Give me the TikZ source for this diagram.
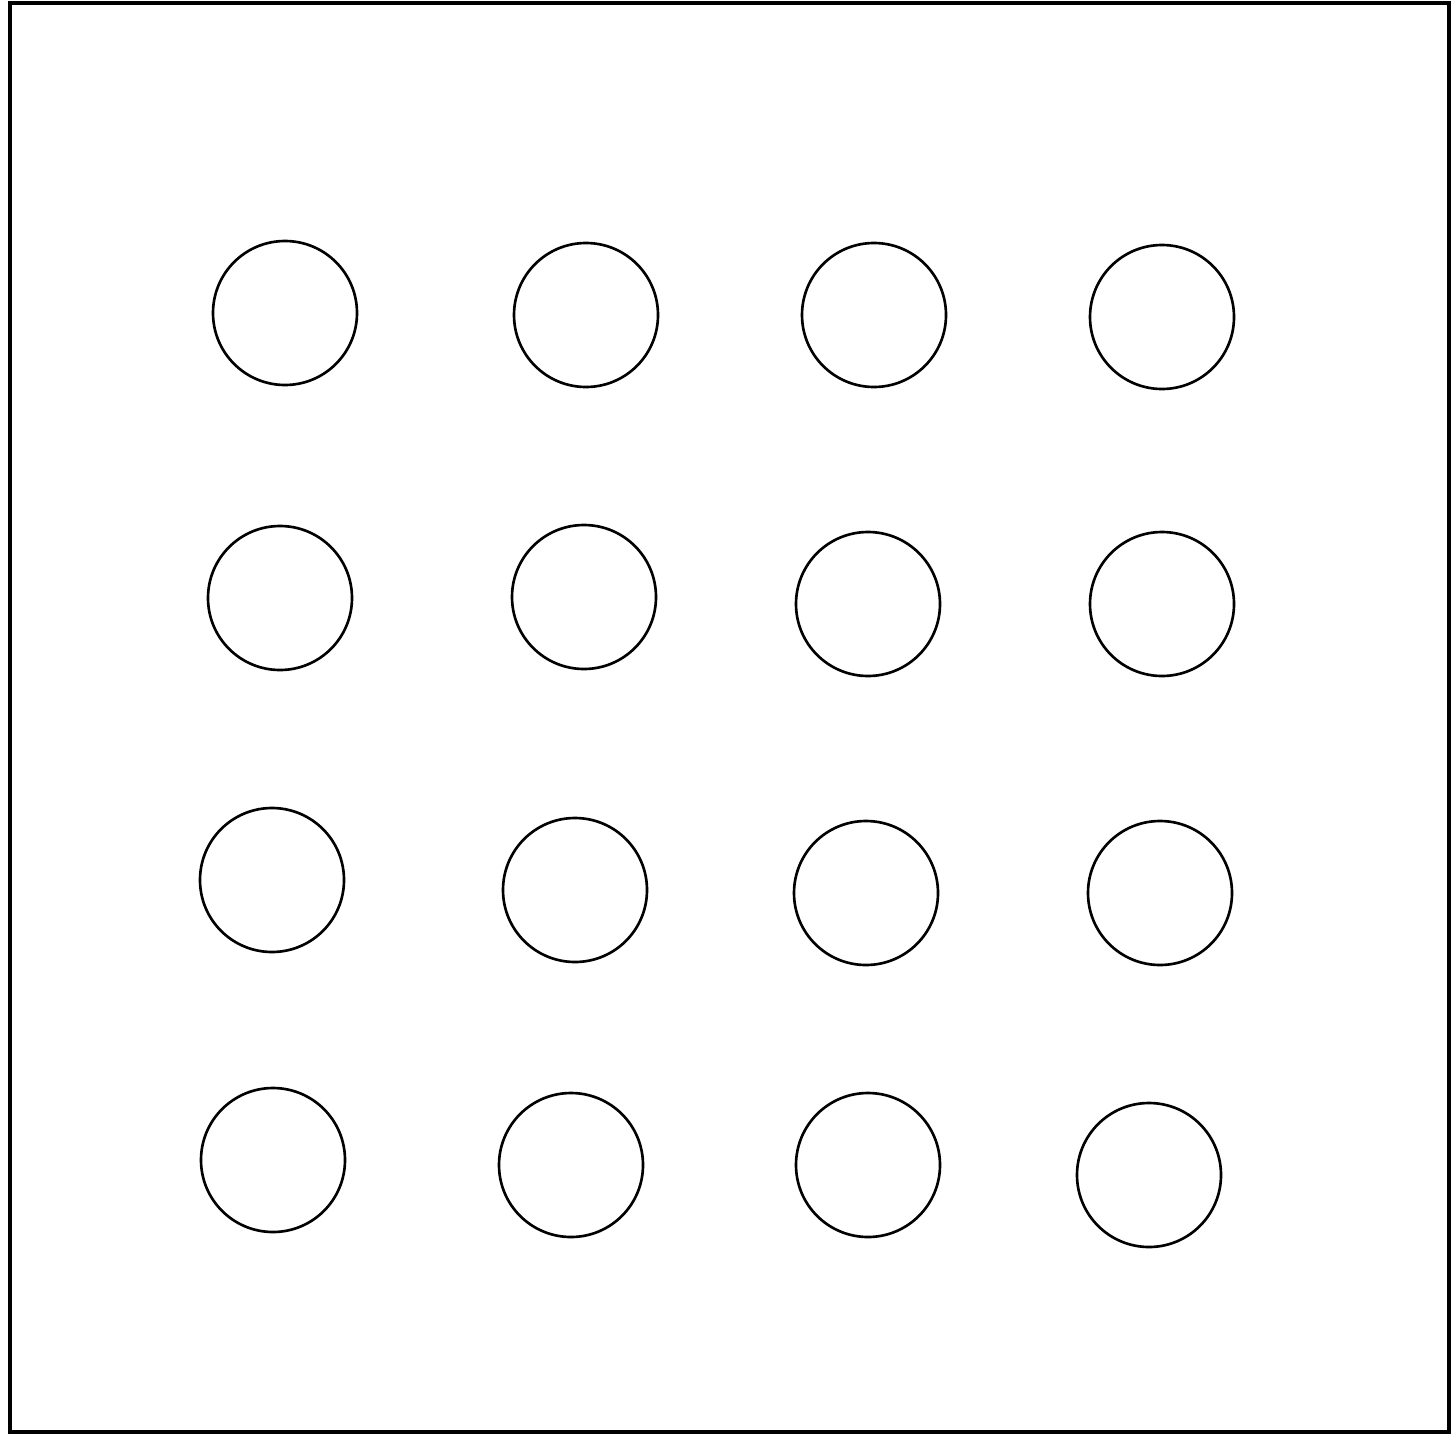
\documentclass[tikz,border=0pt]{standalone}
\usepackage{tikz}

\tikzset{
  hole/.style={circle, draw, line width=0.75pt, minimum size=1.44cm, inner sep=0pt},
  plate/.style={draw, line width=1pt}
}

\begin{document}
\begin{tikzpicture}
  \useasboundingbox (0,0) rectangle (14.55,14.39);
  \draw[plate] (0.10,0.07) rectangle (14.49,14.36);

  \node[hole] (h11) at (2.85,11.26) {};
  \node[hole] (h12) at (5.86,11.24) {};
  \node[hole] (h13) at (8.74,11.24) {};
  \node[hole] (h14) at (11.62,11.22) {};

  \node[hole] (h21) at (2.80,8.41) {};
  \node[hole] (h22) at (5.84,8.42) {};
  \node[hole] (h23) at (8.68,8.35) {};
  \node[hole] (h24) at (11.62,8.35) {};

  \node[hole] (h31) at (2.72,5.59) {};
  \node[hole] (h32) at (5.75,5.49) {};
  \node[hole] (h33) at (8.66,5.46) {};
  \node[hole] (h34) at (11.60,5.46) {};

  \node[hole] (h41) at (2.73,2.79) {};
  \node[hole] (h42) at (5.71,2.74) {};
  \node[hole] (h43) at (8.68,2.74) {};
  \node[hole] (h44) at (11.49,2.64) {};
\end{tikzpicture}
\end{document}
